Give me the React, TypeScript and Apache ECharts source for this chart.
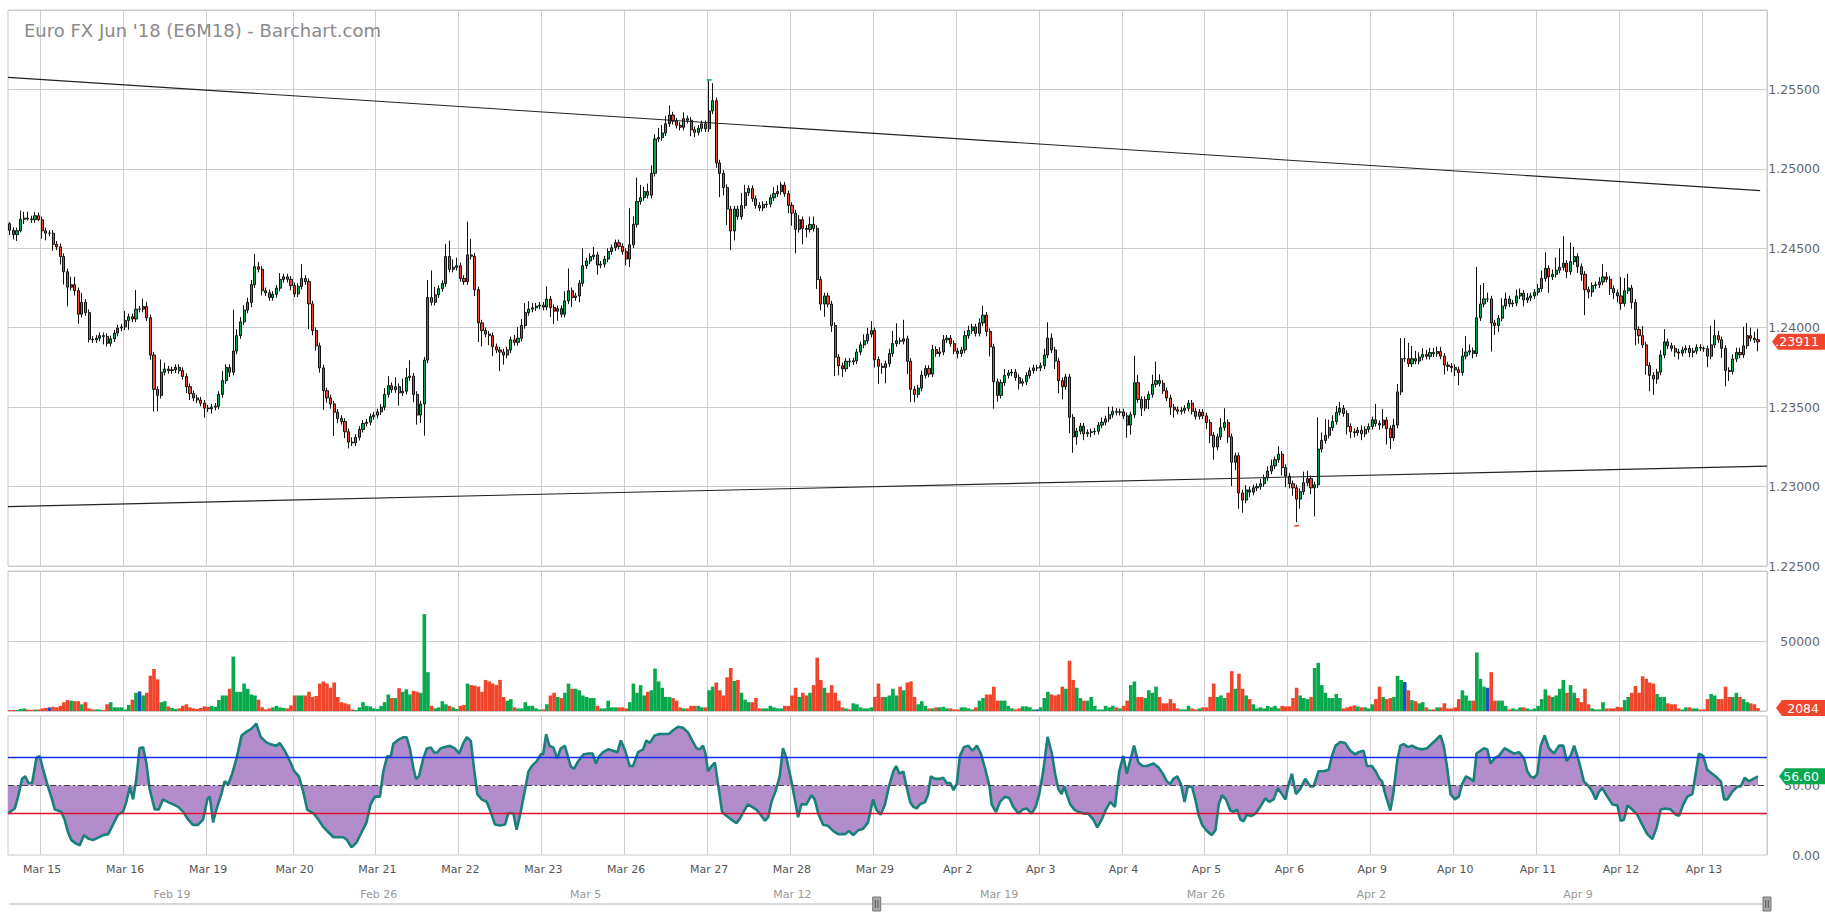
import React, { useEffect, useRef } from "react";
import * as echarts from "echarts";

const FONT = "DejaVu Sans";
const TITLE = "Euro FX Jun '18 (E6M18) - Barchart.com";

// one block per session; first block = bars before the first labelled day
const dayLabels = ["", "Mar 15", "Mar 16", "Mar 19", "Mar 20", "Mar 21", "Mar 22", "Mar 23", "Mar 26", "Mar 27", "Mar 28", "Mar 29", "Apr 2", "Apr 3", "Apr 4", "Apr 5", "Apr 6", "Apr 9", "Apr 10", "Apr 11", "Apr 12", "Apr 13"];

// hourly closes in pips above 1.20000 (e.g. 461.3 -> 1.24613)
const firstOpenPips = 465.5;
const closeBlocks = [
  [461.3, 458.6, 461.0, 468.3, 469.0, 468.5, 468.0, 470.5, 468.0],
  [461.0, 459.5, 459.5, 452.5, 450.9, 444.8, 435.2, 425.5, 427.1, 423.3, 408.5, 416.0, 409.5, 392.7, 392.4, 393.4, 395.0, 394.5, 390.2, 393.0, 396.6, 399.8, 400.5],
  [404.6, 406.9, 405.5, 411.7, 411.7, 413.3, 406.3, 382.8, 361.2, 357.4, 372.0, 374.0, 373.0, 373.5, 375.0, 373.0, 369.3, 362.9, 358.5, 355.8, 354.5, 352.5, 349.4],
  [349.0, 350.0, 350.6, 358.0, 366.7, 375.0, 372.0, 385.3, 395.0, 403.7, 411.1, 415.9, 427.1, 438.4, 436.8, 423.3, 422.0, 419.0, 421.0, 424.9, 430.4, 432.0, 430.5, 426.5],
  [421.3, 426.0, 431.0, 429.0, 415.0, 398.2, 388.6, 374.7, 360.3, 355.8, 352.0, 346.8, 342.9, 341.0, 334.5, 328.0, 327.5, 331.0, 336.0, 339.8, 340.5, 344.0, 345.0],
  [347.0, 350.0, 358.0, 363.5, 361.0, 362.9, 359.0, 360.0, 368.6, 369.5, 358.0, 345.0, 352.0, 379.6, 419.0, 416.0, 420.7, 424.6, 427.8, 444.8, 436.8, 438.0, 439.0],
  [431.0, 429.0, 445.8, 445.0, 423.9, 403.0, 398.2, 396.0, 395.0, 388.0, 386.0, 384.7, 382.8, 386.0, 392.4, 390.8, 393.4, 401.4, 409.5, 411.7, 412.5, 413.6, 414.2],
  [413.0, 418.0, 412.7, 410.4, 412.0, 408.5, 416.9, 423.3, 419.0, 420.0, 428.0, 439.0, 442.0, 444.8, 445.8, 439.4, 440.0, 443.2, 448.0, 450.3, 453.5, 451.2, 448.0],
  [443.2, 452.2, 465.1, 479.5, 481.9, 485.7, 483.4, 497.2, 518.8, 519.7, 522.6, 528.4, 533.9, 530.0, 527.4, 526.2, 531.6, 530.6, 524.6, 523.0, 525.5, 528.4, 525.2],
  [536.4, 542.9, 503.7, 497.2, 488.2, 474.7, 460.9, 474.7, 470.0, 476.9, 485.0, 487.6, 481.2, 477.0, 475.4, 477.6, 477.8, 481.8, 484.4, 485.7, 489.8, 484.4, 477.0],
  [472.2, 461.9, 468.0, 462.5, 461.9, 465.0, 462.5, 430.4, 414.9, 420.0, 414.9, 401.4, 381.5, 376.0, 374.1, 378.9, 378.5, 379.2, 384.7, 389.2, 391.8, 395.9, 398.2],
  [380.0, 375.7, 375.0, 377.3, 383.7, 390.0, 391.8, 391.5, 393.0, 378.9, 361.2, 358.0, 362.0, 370.0, 374.4, 370.8, 386.3, 383.7, 384.7, 392.4, 393.4, 390.0, 385.3],
  [383.7, 386.0, 395.0, 398.2, 400.5, 396.5, 403.0, 407.9, 397.6, 387.9, 366.0, 357.4, 365.4, 370.0, 371.5, 372.0, 368.6, 365.1, 366.0, 369.9, 373.0, 374.7, 374.7],
  [376.0, 382.8, 393.4, 386.0, 379.0, 366.7, 362.9, 369.0, 343.6, 331.3, 334.9, 338.0, 333.2, 334.0, 334.5, 334.8, 338.7, 340.5, 342.6, 345.2, 347.4, 346.8, 347.0],
  [344.5, 338.7, 345.2, 365.4, 354.8, 349.4, 354.8, 358.0, 364.4, 366.7, 365.0, 360.3, 355.8, 350.0, 348.4, 347.4, 348.0, 349.3, 352.5, 347.4, 344.2, 346.8, 344.5],
  [340.3, 332.3, 324.9, 331.3, 337.1, 340.3, 331.3, 315.3, 319.4, 296.0, 291.5, 297.9, 296.5, 299.2, 300.0, 301.8, 305.6, 309.8, 313.0, 316.9, 320.4, 312.0, 306.6],
  [301.8, 299.2, 292.1, 296.8, 302.4, 305.0, 299.2, 301.1, 323.6, 329.0, 332.3, 337.1, 341.0, 346.8, 349.3, 346.0, 337.8, 334.5, 333.9, 335.5, 333.2, 336.0, 337.8],
  [342.0, 339.7, 338.7, 341.9, 336.5, 330.7, 338.7, 359.6, 380.5, 380.5, 377.3, 380.5, 379.0, 381.5, 383.1, 382.0, 384.4, 383.7, 385.0, 382.1, 376.5, 375.7, 374.9],
  [373.5, 371.8, 382.1, 384.7, 385.5, 383.7, 406.3, 414.9, 418.1, 418.1, 403.0, 401.4, 406.0, 413.6, 418.1, 415.0, 415.5, 420.0, 421.7, 417.5, 418.8, 420.0, 422.3],
  [424.6, 431.0, 437.4, 432.0, 433.6, 436.2, 438.0, 440.6, 435.2, 441.6, 444.8, 438.4, 433.6, 423.9, 422.5, 426.5, 427.0, 428.8, 432.0, 430.5, 424.6, 422.0, 420.0],
  [415.3, 423.3, 425.0, 415.9, 398.9, 395.0, 389.2, 376.3, 370.0, 367.7, 372.1, 382.8, 391.1, 388.6, 387.0, 384.7, 384.0, 386.0, 387.0, 384.4, 385.3, 387.6, 387.2],
  [386.8, 382.1, 389.2, 395.0, 392.4, 387.0, 373.1, 372.5, 380.3, 384.4, 383.0, 388.6, 395.0, 393.4, 392.4, 391.1],
];

// wick length above the body / below the body, in pips
const upWickBlocks = [
  [1, 2, 2, 5.5, 4, 4, 2, 2.5, 2],
  [2, 2, 2, 2, 2, 2, 2, 2, 5, 5, 2, 6, 2, 2, 2, 2, 2, 2, 2, 2, 2, 2, 2],
  [6, 2, 2, 12, 2, 5, 3, 2, 2, 2, 8, 4, 2, 2, 2, 2, 2, 2, 2, 2, 2, 2, 2],
  [2, 2, 2, 2, 6, 2, 2, 26, 4, 3, 3, 3, 3, 8, 3, 2, 2, 2, 2, 2, 4, 2, 2, 2],
  [2, 2, 9, 2, 2, 2, 2, 2, 2, 2, 2, 2, 2, 2, 2, 2, 3, 2, 2, 2, 2, 2, 2],
  [2, 2, 4, 6, 2, 6, 2, 8, 6, 10, 2, 2, 2, 2, 11, 17, 5, 2, 2, 8, 10, 5, 5],
  [2, 2, 21, 10, 2, 2, 2, 2, 2, 2, 2, 2, 2, 2, 2, 3, 7, 4, 6, 5, 3, 2, 2],
  [2, 8, 2, 2, 2, 2, 6, 14, 2, 2, 2, 11, 2, 2, 5, 2, 2, 2, 2, 2, 2, 2, 2],
  [2, 23, 5, 15, 8, 3, 5, 5, 3, 6, 5, 5, 6, 2, 2, 2, 4, 2, 2, 2, 2, 2, 2],
  [19.3, 11, 2, 2, 2, 2, 2, 2, 2, 8, 5, 2, 2, 2, 2, 2, 2, 2, 4, 4, 2, 2, 2],
  [2, 2, 3, 2, 2, 5, 5, 2, 2, 2, 2, 2, 2, 2, 2, 2, 2, 2, 2, 2, 4, 4, 6],
  [2, 2, 2, 2, 3, 8, 11, 2, 12, 2, 2, 2, 2, 3, 2, 2, 3, 2, 3, 3, 2, 2, 2],
  [2, 2, 3, 3, 2, 2, 3, 6, 2, 2, 2, 2, 2, 4, 2, 2, 2, 2, 2, 2, 2, 2, 2],
  [2, 4, 10, 3, 2, 2, 2, 2, 2, 2, 2, 2, 2, 2, 2, 2, 2, 3, 2, 5, 3, 2, 2],
  [2, 2, 2, 17, 5, 2, 2, 2, 6, 12, 4, 2, 2, 2, 2, 2, 2, 2, 2, 2, 2, 2, 2],
  [2, 2, 2, 2, 6, 9, 2, 2, 2, 2, 2, 3, 2, 2, 2, 3, 2, 3, 4, 2, 5, 2, 2],
  [2, 2, 2, 2, 7, 5, 2, 2, 20, 5, 10, 5, 4, 4, 4, 2, 2, 2, 2, 2, 3, 2, 2],
  [2, 10, 2, 7, 2, 2, 4, 5, 13, 13, 10, 8, 5, 3, 4, 3, 3, 3, 3, 3, 2, 2, 2],
  [2, 2, 5, 10, 4, 2, 32, 12, 10, 4, 2, 2, 2, 5, 4, 2, 2, 4, 3, 2, 3, 2, 2],
  [3, 5, 10, 2, 3, 8, 12, 17, 2, 12, 6, 2, 2, 2, 2, 2, 2, 3, 8, 3, 2, 2, 2],
  [12, 8, 9, 2, 2, 2, 6, 2, 2, 2, 2, 3, 8, 2, 2, 2, 2, 2, 2, 2, 2, 2, 2],
  [1, 2, 12, 10, 3, 2, 2, 2, 3, 3, 3, 12, 8, 5, 4, 7],
];
const downWickBlocks = [
  [3, 3, 4, 1, 3, 1, 2, 2, 1],
  [5, 4.5, 2, 4, 2, 5, 8, 12, 2, 3, 6, 2, 2, 2, 2, 2, 2, 5, 2, 2, 2, 2, 2],
  [2, 6, 2, 2, 2, 2, 2, 3, 14, 10, 2, 2, 2, 2, 2, 2, 2, 4, 4, 2, 2, 2, 6],
  [2, 3, 2, 2, 2, 2, 3, 2, 2, 2, 2, 2, 3, 2, 2, 3, 2, 2, 2, 2, 2, 2, 2, 3],
  [2, 2, 2, 2, 16, 3, 3, 3, 12, 3, 3, 15, 3, 2, 4, 4, 2, 2, 2, 2, 2, 2, 2],
  [2, 2, 2, 2, 2, 2, 8, 2, 2, 2, 5, 6, 5, 20, 2, 2, 2, 2, 2, 2, 2, 2, 2],
  [2, 2, 2, 2, 4, 12, 10, 2, 6, 6, 2, 12, 6, 2, 2, 2, 2, 2, 2, 2, 2, 2, 2],
  [2, 2, 6, 8, 6, 2, 2, 2, 6, 2, 4, 2, 2, 2, 2, 6, 2, 2, 2, 2, 2, 2, 2],
  [4, 5, 2, 2, 2, 2, 2, 2, 2, 2, 2, 2, 2, 2, 2, 2, 2, 2, 4, 3, 2, 2, 2],
  [2, 2, 3, 15, 5, 10, 12, 6, 2, 2, 2, 2, 2, 2, 2, 2, 2, 2, 2, 2, 2, 2, 5],
  [8, 15, 2, 10, 5, 2, 2, 6, 4, 8, 2, 4, 12, 6, 5, 2, 3, 2, 2, 2, 2, 2, 2],
  [5, 11, 4, 10, 2, 2, 2, 2, 2, 8, 8, 5, 2, 2, 2, 2, 2, 2, 2, 2, 2, 2, 2],
  [3, 2, 2, 2, 2, 2, 2, 2, 3, 6, 17, 4, 2, 2, 2, 2, 2, 4, 2, 2, 2, 2, 2],
  [2, 2, 2, 2, 5, 8, 8, 2, 10, 10, 5, 2, 4, 2, 3, 2, 2, 2, 2, 2, 2, 2, 2],
  [2, 8, 6, 2, 2, 5, 2, 6, 2, 2, 2, 2, 2, 5, 5, 2, 2, 2, 2, 2, 2, 2, 2],
  [4, 5, 8, 2, 2, 2, 4, 15, 5, 10, 8, 2, 3, 2, 2, 2, 2, 2, 2, 2, 2, 5, 7],
  [3, 5, 14.5, 6, 2, 2, 4, 18, 2, 2, 2, 2, 2, 2, 2, 2, 5, 4, 3, 2, 4, 2, 2],
  [2, 2, 3, 2, 10, 7, 2, 2, 2, 2, 2, 2, 2, 2, 2, 2, 2, 2, 2, 2, 6, 3, 3],
  [4, 8, 2, 2, 2, 3, 2, 2, 2, 2, 18, 6, 4, 2, 2, 2, 2, 2, 2, 4, 2, 2, 2],
  [2, 2, 2, 10, 2, 2, 2, 2, 4, 2, 2, 4, 4, 16, 4, 3, 2, 2, 2, 2, 4, 4, 4],
  [4, 2, 2, 4, 10, 5, 2, 6, 10, 10, 3, 2, 2, 2, 2, 3, 4, 2, 2, 3, 3, 2, 2],
  [2, 7, 2, 2, 2, 6, 10, 6, 2, 2, 2, 2, 2, 2, 2, 6],
];

const volumeBlocks = [
  [700, 700, 700, 1500, 1850, 1100, 700, 1100, 1100],
  [1800, 2200, 2600, 3000, 2600, 3700, 6300, 7800, 7400, 7000, 7000, 4800, 6300, 1850, 1100, 1100, 1100, 700, 4800, 6300, 2600, 2600, 2600],
  [1100, 4400, 8100, 13000, 14000, 11100, 13000, 25200, 30000, 22600, 6300, 7000, 3300, 2200, 1500, 1850, 3700, 4800, 2600, 1850, 1500, 2200, 3300],
  [3000, 3700, 3000, 7800, 11100, 11100, 15900, 38900, 13700, 13700, 19600, 15900, 11800, 11100, 8100, 2600, 1100, 1850, 2600, 3700, 2600, 2200, 1850, 4000],
  [11100, 11100, 11100, 11100, 13700, 10000, 10700, 19600, 21100, 19600, 16600, 20350, 10000, 6300, 5500, 4800, 1100, 740, 2600, 6300, 3700, 3300, 1850],
  [1500, 3700, 6300, 11800, 9250, 9250, 16300, 13700, 15500, 11800, 14400, 13700, 13000, 69200, 27750, 3700, 1850, 2600, 7000, 4800, 3700, 2600, 1500],
  [3700, 4400, 19600, 18500, 18100, 17400, 13700, 22200, 21100, 19600, 18500, 22200, 10000, 7400, 8500, 2600, 1850, 1850, 6300, 3700, 3700, 1850, 1100],
  [1100, 4800, 11100, 13000, 10000, 9250, 13000, 19600, 15900, 15900, 14800, 11100, 10000, 9250, 9250, 3700, 1850, 1850, 7400, 2600, 2600, 2600, 2600],
  [1850, 6300, 19600, 13000, 18500, 11100, 13700, 14800, 30300, 21100, 16600, 10000, 10000, 9250, 7400, 2600, 1850, 1850, 3700, 3700, 3700, 2600, 2600],
  [14800, 17400, 20350, 14800, 11100, 24000, 30700, 21500, 22200, 13000, 8100, 6300, 6300, 9250, 1850, 1850, 1850, 3700, 2600, 1850, 1850, 3700, 3700],
  [11100, 16600, 10000, 13000, 11100, 13000, 18500, 38100, 22200, 16600, 13000, 18500, 13000, 7400, 2600, 1850, 1100, 5500, 4800, 2600, 1850, 1850, 2600],
  [10000, 19600, 10000, 10000, 11100, 15900, 11100, 17400, 14800, 20350, 21100, 10000, 4800, 7000, 3700, 1850, 1850, 2600, 2600, 3000, 1850, 1850, 1100],
  [1100, 2600, 2600, 1850, 1100, 2600, 7400, 9250, 11800, 11800, 17400, 7400, 7400, 7400, 3700, 1850, 1100, 1850, 3300, 3300, 2600, 1100, 1100],
  [2600, 9250, 13700, 11800, 11100, 11800, 17400, 15900, 35900, 22200, 16600, 9250, 7400, 7400, 10000, 3700, 1100, 1100, 3700, 2600, 3700, 2600, 1850],
  [3700, 7400, 18500, 21100, 10000, 10000, 9250, 14800, 13000, 17400, 10000, 5500, 5500, 8500, 5500, 1850, 1100, 1100, 3700, 1850, 1100, 1850, 2600],
  [2600, 10000, 19600, 10000, 11100, 9250, 13000, 28500, 15900, 26600, 15900, 11100, 8500, 4800, 1850, 2600, 1850, 3700, 2600, 3700, 1850, 3700, 3300],
  [3300, 9250, 16600, 11100, 9250, 8500, 10000, 30700, 34400, 18500, 13000, 9250, 9250, 12200, 9250, 1850, 2600, 3300, 4000, 3300, 2600, 2600, 1850],
  [4800, 8500, 17400, 10000, 8500, 9250, 10000, 25100, 22200, 20700, 14800, 7800, 7000, 5500, 6300, 2600, 1100, 1100, 2600, 2600, 5500, 1850, 1850],
  [2600, 8500, 14800, 11100, 7400, 7400, 41800, 23000, 17400, 16600, 27750, 7400, 7400, 7400, 3700, 1100, 1850, 1100, 2600, 2600, 1850, 1100, 1850],
  [3700, 8500, 15500, 11100, 10000, 11100, 15900, 22200, 13000, 18500, 13000, 9250, 6300, 15900, 4800, 1850, 1100, 1100, 6300, 1850, 1850, 1850, 3000],
  [2600, 7800, 10000, 13000, 17800, 13000, 24800, 23000, 20350, 19600, 12200, 10000, 10000, 5500, 4800, 4800, 1850, 1100, 2600, 2600, 1850, 1850, 1100],
  [1100, 8500, 12200, 11100, 8500, 8500, 17400, 10000, 10000, 13000, 10000, 8500, 6300, 5500, 4800, 2084],
];

// oscillator readings: [bar position, value]
const rsiPoints: [number, number][] = [
  [-0.5, 29.8], [1.4, 33.5], [2.3, 42], [3.4, 54.8], [4.3, 56.6], [5.2, 51.8], [6.2, 51.8], [7.4, 70], [8.3, 71], [9.2, 62], [10.6, 49], [11.5, 42], [12.5, 32.7], [13.4, 32], [14.3, 31], [15.2, 25.4], [16.2, 16], [17.1, 10.7], [18.0, 8.8], [19.4, 7], [20.6, 14.3], [21.7, 11.8], [23.1, 10.7], [24.5, 12.5], [25.9, 14.3], [27.3, 15], [28.6, 21.7], [30.0, 29], [31.4, 31], [32.3, 38], [33.3, 49], [34.2, 40], [35.1, 54.8], [36.0, 76.8], [37.0, 77.6], [37.9, 65.8], [38.8, 47.4], [40.2, 32.7], [41.3, 32.7], [42.5, 40], [43.9, 38], [45.3, 36.4], [46.7, 34.6], [48.1, 31], [49.5, 25.4], [50.8, 21.7], [52.2, 21.7], [53.6, 25.4], [54.8, 40], [55.5, 42], [56.4, 23.5], [57.3, 32.7], [58.7, 43.8], [59.6, 53], [60.6, 51], [61.7, 58.5], [62.9, 69.5], [64.3, 86], [65.6, 88.6], [67.0, 90.8], [68.4, 94.5], [69.6, 85], [71.2, 81], [72.6, 79.4], [74.0, 78.7], [74.9, 80.5], [76.3, 75], [77.7, 67.6], [78.9, 60.3], [80.2, 56.6], [81.4, 45.6], [82.5, 32.7],
  [84.2, 30], [85.6, 25.5], [87.0, 20], [88.4, 16.4], [89.8, 12.8], [91.1, 12.8], [92.5, 12.8], [93.5, 11], [94.8, 5.5], [96.2, 9], [97.6, 16.4], [99.0, 23.7], [100.1, 36.5], [101.3, 42], [102.7, 42], [103.6, 60], [104.7, 71], [105.7, 71], [106.4, 80], [107.8, 83], [109.2, 84.7], [110.1, 84.7], [111.0, 76.6], [112.0, 62], [112.7, 54.7], [113.5, 56.6], [114.7, 69.3], [115.7, 76.6], [116.8, 77.4], [117.7, 73.7], [118.6, 73.7], [119.5, 76.6], [120.7, 77.7], [122.1, 78.5], [123.5, 76.6], [124.7, 73], [125.8, 80.3], [126.8, 84.7], [127.9, 82], [128.8, 62], [129.7, 43.8], [130.9, 40], [132.3, 38.3], [133.4, 31], [134.6, 22], [136.0, 21.2], [137.4, 22], [138.3, 30], [139.7, 30], [140.6, 18.2], [141.6, 29.2], [142.7, 43.8], [143.9, 60.2], [144.8, 63.9], [146.2, 67.5], [147.3, 72.3], [148.0, 73], [148.8, 86.9], [149.7, 78.5], [150.8, 77.4], [151.9, 69.3], [152.8, 76.6], [154.0, 78.5], [155.0, 69.3], [155.6, 63.9], [156.5, 62], [157.7, 67.5], [159.1, 72.3], [160.5, 73], [161.7, 73], [162.6, 65.7],
  [163.5, 71], [164.6, 74], [166.0, 76], [167.4, 75], [168.6, 74], [169.5, 82.4], [170.6, 76], [172.0, 64], [172.9, 64], [174.3, 74], [175.7, 76], [176.6, 82.4], [177.5, 80.5], [178.9, 86], [180.3, 87], [181.7, 87], [182.8, 87], [184.0, 89.7], [185.4, 92.3], [186.8, 91.5], [188.2, 88], [189.3, 82.4], [190.5, 76.8], [191.4, 76], [192.3, 78.7], [193.0, 73], [193.7, 60.3], [194.7, 64], [195.6, 66.5], [196.5, 51], [197.6, 31], [198.8, 28.3], [200.2, 25.4], [201.6, 22.8], [202.5, 26], [203.9, 32.7], [204.8, 36.4], [205.9, 34.6], [207.1, 32.7], [208.3, 29], [209.5, 24.6], [210.4, 27.2], [211.3, 38.2], [212.4, 45.6], [213.6, 56.6], [214.5, 76.8], [215.5, 69.5], [216.7, 54.8], [217.8, 40], [218.7, 27.2], [219.6, 36.4], [221.0, 36.4], [222.4, 43], [223.3, 40], [224.3, 29.8], [225.6, 21.7], [227.0, 21], [228.4, 17.3], [229.8, 15], [231.7, 15], [232.8, 17.3], [234.0, 14.3], [235.4, 18], [236.7, 18.8], [238.1, 23.5], [239.5, 40], [240.4, 32.7], [241.6, 29], [242.8, 36.4], [243.9, 49.3],
  [245.1, 60], [245.9, 64], [246.8, 58.5], [247.9, 60], [248.8, 49], [249.8, 38], [250.7, 34.6], [251.6, 33.5], [252.5, 36.4], [253.9, 38], [254.8, 43.8], [255.5, 56.6], [256.7, 54.8], [258.1, 54.8], [259.0, 55.5], [259.9, 51.8], [260.9, 51.8], [261.8, 46.7], [262.7, 51], [263.6, 71.3], [264.7, 77.6], [265.9, 78.7], [267.1, 75], [268.3, 78.7], [269.4, 73], [270.6, 62], [271.8, 49.3], [272.4, 36.4], [273.6, 30.9], [274.7, 38.2], [276.1, 42], [277.3, 40.8], [278.4, 34.6], [279.8, 29.8], [281.0, 32.7], [282.1, 33.5], [283.5, 29.8], [284.6, 34.6], [285.6, 43.8], [286.8, 62], [287.9, 85], [289.1, 73], [290.0, 58.5], [290.9, 47.4], [291.8, 43.8], [292.5, 49.3], [293.2, 43.8], [294.2, 36.4], [295.3, 32.7], [296.5, 31], [297.9, 29.8], [299.2, 29.8], [300.6, 25.4], [301.7, 19.9], [302.9, 25.4], [304.1, 32.7], [305.3, 38.2], [306.6, 34.6], [307.8, 60.3], [308.9, 71.3], [309.9, 58.5], [310.8, 67.6], [311.9, 78.7], [313.1, 66.5], [314.3, 64], [315.4, 64], [317.3, 65.8], [318.7, 62.9], [319.9, 58.5], [321.0, 53], [321.9, 51], [322.8, 54.8], [323.9, 56.6], [324.9, 51], [325.9, 38.2], [326.8, 49.3],
  [328.0, 49], [328.9, 40], [329.8, 29], [330.8, 21.7], [332.1, 17.3], [333.5, 14.3], [334.5, 18], [335.4, 36.4], [336.3, 43], [337.4, 40], [338.6, 32], [339.5, 31], [340.5, 32.7], [341.4, 25.4], [342.3, 24.3], [343.2, 29], [344.4, 28], [345.6, 29.8], [346.9, 34.6], [348.3, 40.8], [349.4, 38.2], [350.6, 40], [351.8, 48], [352.9, 43.8], [353.9, 40], [354.8, 51], [355.7, 58.5], [356.8, 43.8], [358.0, 47.4], [359.4, 54.8], [360.8, 49.3], [361.7, 49.3], [363.1, 60.3], [364.5, 60.3], [365.9, 61.4], [366.8, 71.3], [367.8, 78.7], [369.1, 81.3], [370.5, 80.5], [371.9, 75], [373.3, 72.4], [374.2, 74], [375.6, 75], [376.5, 64], [377.9, 64], [378.9, 60.3], [380.0, 54.8], [380.7, 53], [381.6, 43.8], [383.0, 32], [383.8, 43.8], [384.9, 67.6], [385.8, 78.7], [386.7, 79.8], [387.9, 77.6], [389.0, 78.7], [390.4, 76.8], [391.8, 76], [393.2, 76.8], [394.4, 79.8], [395.5, 82.4], [396.9, 86], [397.8, 78.7], [398.7, 64], [399.7, 43.8], [400.9, 40], [402.0, 42], [402.9, 51], [404.0, 56.6], [405.2, 54.8], [406.1, 53],
  [406.9, 73], [408.0, 75], [409.0, 76.8], [409.9, 76], [410.8, 65.8], [411.9, 69.5], [413.1, 71.3], [414.7, 76.8], [415.9, 75], [417.3, 73], [418.7, 74], [420.1, 69.5], [421.0, 60.3], [421.9, 56.6], [422.9, 55.5], [423.8, 58.5], [424.7, 78.7], [425.8, 86], [427.0, 76.8], [428.4, 73], [429.8, 78.7], [431.0, 78.7], [431.9, 67.6], [433.0, 71.3], [434.0, 78.7], [435.3, 67.6], [436.7, 53], [438.1, 49.3], [439.0, 45.6], [440.0, 40], [440.9, 45.6], [441.8, 48], [443.2, 42], [444.6, 36.4], [446.0, 35.7], [446.9, 24.6], [447.8, 25.4], [448.8, 35.7], [450.1, 32.7], [451.5, 29], [452.9, 21.7], [454.3, 15], [455.7, 11.4], [456.9, 19.9], [458.0, 32.7], [459.4, 33.5], [460.8, 32.7], [462.2, 29], [463.1, 28.3], [464.3, 36.4], [465.4, 42], [466.8, 43.8], [467.7, 58.5], [468.6, 73], [469.8, 71.3], [470.9, 61.4], [472.3, 58.5], [473.7, 55.5], [474.7, 53], [475.6, 40], [476.5, 40], [477.9, 45.6], [479.3, 49.3], [480.2, 49.3], [481.3, 55.5], [482.5, 53], [483.7, 54.8], [485.0, 56.6],
];

// trend lines: [bar position, price]
const upperTrend: [number, number][] = [[-0.5, 1.25576], [485.6, 1.24863]];
const lowerTrend: [number, number][] = [[-0.5, 1.22874], [487.5, 1.23129]];

const rsiLevels = { upper: 70, mid: 50, lower: 30 };
const priceMin = 1.225, priceMax = 1.26, priceStep = 0.005;
const volumeMax = 100000, volumeStep = 50000;
const slotCount = 488;

const lastPrice = 1.23911, lastPriceText = ".23911";
const lastVolume = 2084;
const lastRsi = 56.6;

// navigator: trading-day number of each weekly label
const navDayNumbers = [0, 5, 10, 15, 20, 25, 29, 34];
const navDayLabels = ["Feb 19", "Feb 26", "Mar 5", "Mar 12", "Mar 19", "Mar 26", "Apr 2", "Apr 9"];
const navRange = [-3.92, 38.57];
const navWindow = [17.04, 38.57];

const GREEN = "#06a94b";
const RED = "#f0452a";
const BLUE = "#1f4fbf";

export default function App() {
  const ref = useRef<HTMLDivElement>(null);

  useEffect(() => {
    const el = ref.current;
    if (!el) return;
    document.body.style.margin = "0";
    const chart = echarts.init(el, null, { renderer: "svg" });

    const closes = closeBlocks.flat();
    const ups = upWickBlocks.flat();
    const dns = downWickBlocks.flat();
    const vols = volumeBlocks.flat();
    const toPrice = (p: number) => +(1.2 + p / 10000).toFixed(5);

    const opens = closes.map((c, i) => (i === 0 ? firstOpenPips : closes[i - 1]));
    const candles = closes.map((c, i) => {
      const o = opens[i];
      const hi = Math.max(o, c) + (ups[i] ?? 2);
      const lo = Math.min(o, c) - (dns[i] ?? 2);
      return [toPrice(o), toPrice(c), toPrice(lo), toPrice(hi)];
    });
    const volumeData = vols.map((v, i) => {
      const o = opens[i], c = closes[i];
      const color = c > o ? GREEN : c < o ? RED : BLUE;
      return { value: v, itemStyle: { color } };
    });

    const dayStarts: number[] = [];
    let acc = 0;
    closeBlocks.forEach((b) => { dayStarts.push(acc); acc += b.length; });
    const startLabel = new Map<number, string>();
    dayStarts.forEach((s, k) => { if (dayLabels[k]) startLabel.set(s, dayLabels[k]); });
    const isStart = (idx: number) => startLabel.has(idx);

    const slots = Array.from({ length: slotCount }, (_, i) => String(i));
    const gridLeft = 8, gridRight = 58;
    const splitColor = "#cccccc";

    const catAxis = (gridIndex: number, showLabel: boolean) => ({
      type: "category",
      gridIndex,
      data: slots,
      boundaryGap: true,
      axisLine: { show: false },
      axisTick: { show: false },
      axisLabel: {
        show: showLabel,
        interval: (idx: number) => isStart(idx),
        formatter: (v: string) => startLabel.get(Number(v)) ?? "",
        color: "#555",
        fontSize: 11,
        fontFamily: FONT,
        margin: 9,
      },
      splitLine: { show: true, interval: (idx: number) => isStart(idx), lineStyle: { color: splitColor, width: 1 } },
    });
    const hiddenValueX = (gridIndex: number) => ({
      type: "value", gridIndex, min: -0.5, max: slotCount - 0.5, show: false,
    });
    const yLabel = {
      color: "#666", fontSize: 12.5, fontFamily: FONT, align: "right", margin: 53,
    };

    const option: any = {
      animation: false,
      backgroundColor: "#ffffff",
      title: {
        text: TITLE, left: 24, top: 20, padding: 0,
        textStyle: { fontSize: 18, lineHeight: 20, color: "#8a8a8a", fontWeight: "normal", fontFamily: FONT },
      },
      grid: [
        { left: gridLeft, right: gridRight, top: 10, height: 556, show: true, borderColor: "#c8c8c8", borderWidth: 1 },
        { left: gridLeft, right: gridRight, top: 571, height: 140, show: true, borderColor: "#c8c8c8", borderWidth: 1 },
        { left: gridLeft, right: gridRight, top: 716, height: 139, show: true, borderColor: "#c8c8c8", borderWidth: 1 },
        { left: 10, right: gridRight, top: 903, height: 1, show: false },
      ],
      xAxis: [
        catAxis(0, false),
        catAxis(1, false),
        catAxis(2, true),
        hiddenValueX(0),
        hiddenValueX(2),
        {
          type: "value", gridIndex: 3, position: "top", min: navRange[0], max: navRange[1],
          axisLine: { show: true, lineStyle: { color: "#cccccc", width: 1.5 } },
          axisTick: { show: false },
          splitLine: { show: false },
          axisLabel: {
            customValues: navDayNumbers,
            formatter: (v: number) => navDayLabels[navDayNumbers.indexOf(v)] ?? "",
            color: "#999", fontSize: 11, fontFamily: FONT, margin: 3,
          },
        },
      ],
      yAxis: [
        {
          type: "value", gridIndex: 0, position: "right", min: priceMin, max: priceMax, interval: priceStep,
          axisLine: { show: false }, axisTick: { show: false },
          splitLine: { show: true, lineStyle: { color: splitColor } },
          axisLabel: { ...yLabel, showMaxLabel: false, formatter: (v: number) => v.toFixed(5) },
        },
        {
          type: "value", gridIndex: 1, position: "right", min: 0, max: volumeMax, interval: volumeStep,
          axisLine: { show: false }, axisTick: { show: false },
          splitLine: { show: true, lineStyle: { color: splitColor } },
          axisLabel: { ...yLabel, showMaxLabel: false, showMinLabel: false, formatter: (v: number) => String(v) },
        },
        {
          type: "value", gridIndex: 2, position: "right", min: 0, max: 100, interval: 50,
          axisLine: { show: false }, axisTick: { show: false },
          splitLine: { show: false },
          axisLabel: { ...yLabel, showMaxLabel: false, formatter: (v: number) => v.toFixed(2) },
        },
        { type: "value", gridIndex: 3, show: false },
      ],
      series: [
        {
          type: "candlestick",
          xAxisIndex: 0, yAxisIndex: 0,
          data: candles,
          barWidth: 2.6,
          itemStyle: { color: GREEN, color0: RED, borderColor: "#111", borderColor0: "#111", borderWidth: 1 },
          markPoint: {
            symbol: "rect", symbolSize: [5, 1.5], silent: true, label: { show: false },
            data: [
              { coord: [194, 1.2556], itemStyle: { color: GREEN } },
              { coord: [357, 1.22753], itemStyle: { color: RED } },
            ],
          },
        },
        {
          type: "line", xAxisIndex: 3, yAxisIndex: 0, data: upperTrend, symbol: "none", silent: true,
          lineStyle: { color: "#222", width: 1.1 },
        },
        {
          type: "line", xAxisIndex: 3, yAxisIndex: 0, data: lowerTrend, symbol: "none", silent: true,
          lineStyle: { color: "#222", width: 1.1 },
        },
        {
          type: "bar", xAxisIndex: 1, yAxisIndex: 1, data: volumeData,
          barCategoryGap: "0%", barGap: "0%",
        },
        {
          type: "line", xAxisIndex: 4, yAxisIndex: 2, data: rsiPoints, symbol: "none",
          lineStyle: { color: "#17817a", width: 2.6 },
          areaStyle: { color: "#b38ccc", opacity: 1, origin: rsiLevels.mid },
          markLine: {
            silent: true, symbol: ["none", "none"], label: { show: false },
            data: [
              { yAxis: rsiLevels.upper, lineStyle: { color: "#1530f0", width: 1.3, type: "solid" } },
              { yAxis: rsiLevels.lower, lineStyle: { color: "#dd1030", width: 1.3, type: "solid" } },
              { yAxis: rsiLevels.mid, lineStyle: { color: "#444", width: 1.2, type: [6, 3, 2, 3] } },
            ],
          },
          z: 3,
        },
      ],
    };

    chart.setOption(option);

    const yPrice = chart.convertToPixel({ yAxisIndex: 0 }, lastPrice) as number;
    const yVol = chart.convertToPixel({ yAxisIndex: 1 }, lastVolume) as number;
    const yRsi = chart.convertToPixel({ yAxisIndex: 2 }, lastRsi) as number;
    const xNavA = chart.convertToPixel({ xAxisIndex: 5 }, navWindow[0]) as number;
    const xNavB = chart.convertToPixel({ xAxisIndex: 5 }, navWindow[1]) as number;
    const yNav = 903;

    const tag = (yc: number, tipX: number, color: string, text: string) => [
      {
        type: "polygon", z: 100, silent: true,
        shape: { points: [[tipX, yc], [tipX + 6, yc - 8], [1825, yc - 8], [1825, yc + 8], [tipX + 6, yc + 8]] },
        style: { fill: color },
      },
      {
        type: "text", z: 101, silent: true, x: 1819, y: yc,
        style: {
          text, fill: "#ffffff", font: `12.5px "${FONT}"`,
          align: "right", verticalAlign: "middle", textAlign: "right", textVerticalAlign: "middle",
        },
      },
    ];
    const handle = (cx: number) => [
      { type: "rect", z: 100, silent: true, shape: { x: cx - 4, y: yNav - 6, width: 8, height: 14 }, style: { fill: "#a8a8a8", stroke: "#777", lineWidth: 1 } },
      { type: "line", z: 101, silent: true, shape: { x1: cx - 1.3, y1: yNav - 3, x2: cx - 1.3, y2: yNav + 5 }, style: { stroke: "#555", lineWidth: 1 } },
      { type: "line", z: 101, silent: true, shape: { x1: cx + 1.3, y1: yNav - 3, x2: cx + 1.3, y2: yNav + 5 }, style: { stroke: "#555", lineWidth: 1 } },
    ];

    chart.setOption({
      graphic: [
        ...tag(yPrice, 1772, RED, lastPriceText),
        ...tag(yVol, 1776, RED, String(lastVolume)),
        ...tag(yRsi, 1779, GREEN, lastRsi.toFixed(2)),
        ...handle(xNavA),
        ...handle(xNavB),
      ],
    });

    return () => chart.dispose();
  }, []);

  return <div ref={ref} style={{ position: "absolute", left: 0, top: 0, width: 1825, height: 918 }} />;
}
